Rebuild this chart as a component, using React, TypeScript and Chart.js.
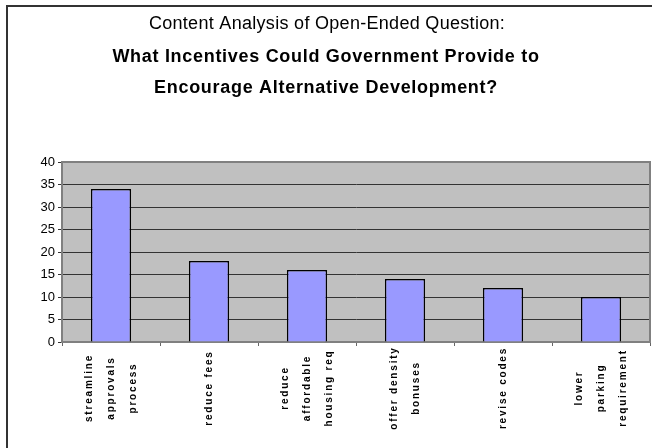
import React, { useEffect, useRef } from "react";
import { Chart, registerables } from "chart.js";

Chart.register(...registerables);

const titleLine1 = "Content Analysis of Open-Ended Question:";
const titleLines2 = ["What Incentives Could Government Provide to", "Encourage Alternative Development?"];

const categories: string[][] = [
  ["streamline", "approvals", "process"],
  ["reduce fees"],
  ["reduce", "affordable", "housing req"],
  ["offer density", "bonuses"],
  ["revise codes"],
  ["lower", "parking", "requirement"],
];
const counts = [34, 18, 16, 14, 12, 10];
const yTicks = [0, 5, 10, 15, 20, 25, 30, 35, 40];

const FONT = '"Liberation Sans", Arial, sans-serif';

const decor = {
  id: "decor",
  beforeDraw(chart: any) {
    const { ctx, chartArea: a } = chart;
    ctx.save();
    ctx.fillStyle = "#ffffff";
    ctx.fillRect(0, 0, chart.width, chart.height);
    // outer frame
    ctx.strokeStyle = "#333333";
    ctx.lineWidth = 2;
    ctx.strokeRect(7, 6, 700, 500);
    // plot background
    ctx.fillStyle = "#C0C0C0";
    ctx.fillRect(a.left, a.top, a.right - a.left, a.bottom - a.top);
    // titles
    ctx.fillStyle = "#000";
    ctx.textAlign = "center";
    ctx.textBaseline = "middle";
    ctx.font = `18px ${FONT}`;
    (ctx as any).letterSpacing = "0.3px";
    ctx.fillText(titleLine1, 327, 24);
    ctx.font = `bold 18px ${FONT}`;
    (ctx as any).letterSpacing = "0.7px";
    titleLines2.forEach((t, i) => ctx.fillText(t, 326, 57 + i * 31));
    ctx.restore();
  },
  beforeDatasetsDraw(chart: any) {
    const { ctx, chartArea: a } = chart;
    ctx.save();
    ctx.strokeStyle = "#808080";
    ctx.lineWidth = 2;
    ctx.strokeRect(a.left, a.top, a.right - a.left, a.bottom - a.top);
    ctx.restore();
  },
  afterDraw(chart: any) {
    const { ctx } = chart;
    const xs = chart.scales.x;
    ctx.save();
    ctx.fillStyle = "#000";
    ctx.font = `bold 10px ${FONT}`;
    (ctx as any).letterSpacing = "1.8px";
    ctx.textAlign = "center";
    ctx.textBaseline = "middle";
    const cy = 388;
    const lh = 22;
    categories.forEach((lines, i) => {
      const cx = xs.getPixelForValue(i);
      const n = lines.length;
      lines.forEach((ln, j) => {
        const x = cx + (j - (n - 1) / 2) * lh;
        ctx.save();
        ctx.translate(x, cy);
        ctx.rotate(-Math.PI / 2);
        ctx.fillText(ln, 0, 0);
        ctx.restore();
      });
    });
    ctx.restore();
  },
};

export default function App() {
  const ref = useRef<HTMLCanvasElement>(null);
  useEffect(() => {
    if (!ref.current) return;
    const chart = new Chart(ref.current, {
      type: "bar",
      data: {
        labels: categories.map((c) => c.join(" ")),
        datasets: [
          {
            data: counts,
            backgroundColor: "#9999FF",
            borderColor: "#000000",
            borderWidth: 1.5,
            barPercentage: 0.41,
            categoryPercentage: 1,
          },
        ],
      },
      options: {
        animation: false,
        responsive: false,
        devicePixelRatio: 1,
        layout: { padding: { top: 162, right: 2, left: 0, bottom: 0 } },
        plugins: { legend: { display: false }, title: { display: false }, tooltip: { enabled: false } },
        scales: {
          x: {
            offset: true,
            ticks: { display: false },
            grid: { drawOnChartArea: false, drawTicks: true, tickLength: 4, color: "#666666", offset: true },
            border: { display: true, color: "#666666", width: 2 },
            afterFit: (s: any) => {
              s.height = 106;
            },
          },
          y: {
            min: 0,
            max: 40,
            afterBuildTicks: (s: any) => {
              s.ticks = yTicks.map((v) => ({ value: v }));
            },
            ticks: { color: "#000", font: { family: FONT, size: 13 }, padding: 3 },
            grid: { color: "#333333", lineWidth: 1, tickLength: 4, drawTicks: true },
            border: { display: true, color: "#666666", width: 2 },
            afterFit: (s: any) => {
              s.width = 62;
            },
          },
        },
      },
      plugins: [decor],
    });
    return () => chart.destroy();
  }, []);
  return (
    <div style={{ position: "absolute", left: 0, top: 0, width: 652, height: 448 }}>
      <canvas ref={ref} width={652} height={448} />
    </div>
  );
}
